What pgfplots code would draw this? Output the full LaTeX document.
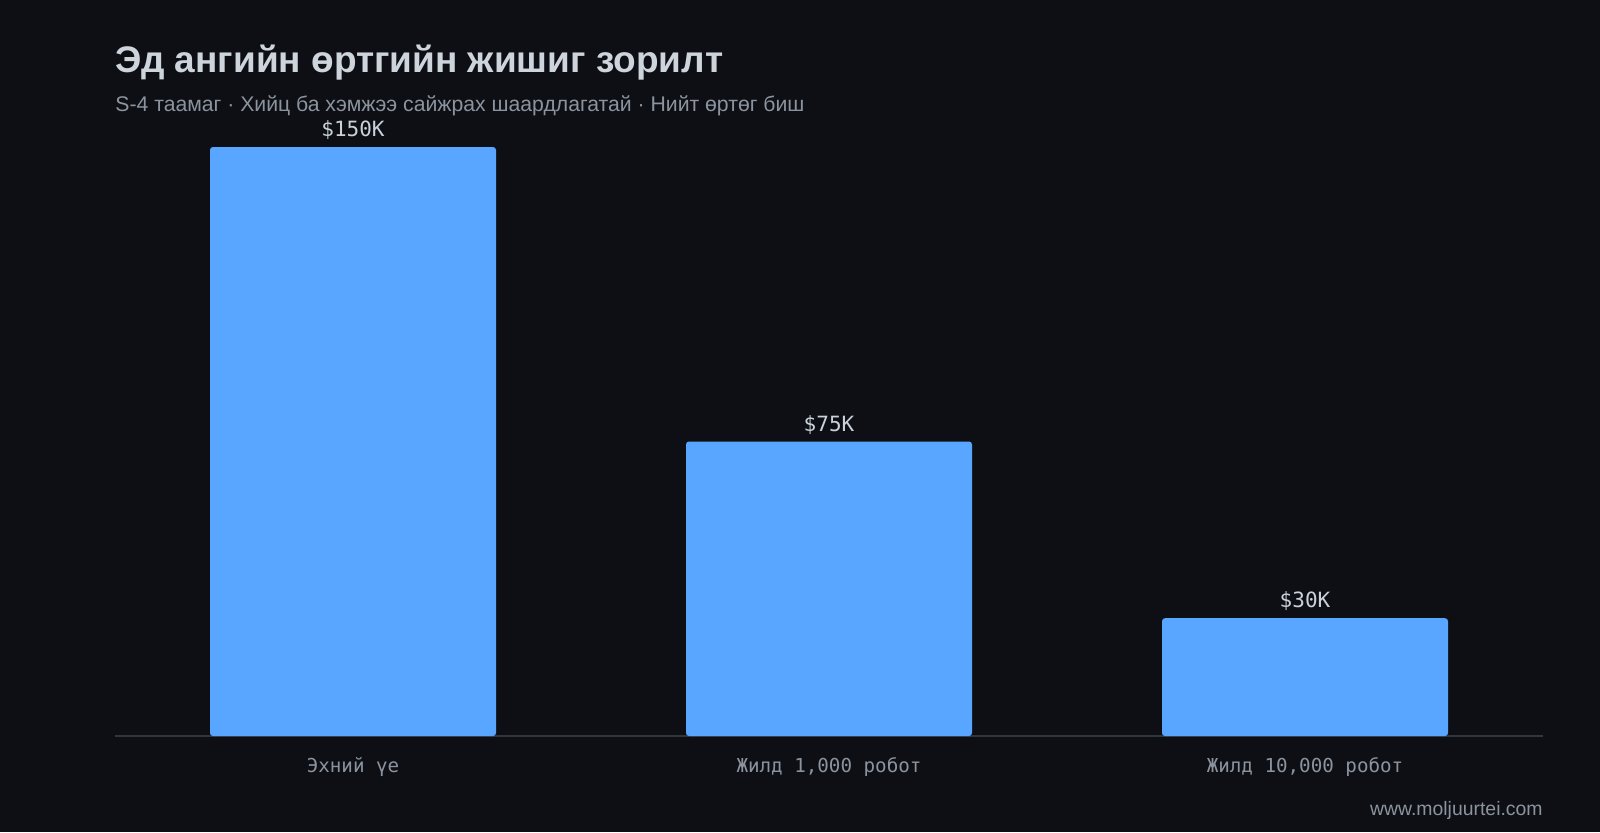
\documentclass[border=0pt]{standalone}
\usepackage{fontspec}
\setmainfont{Liberation Sans}
\newfontfamily\monofont{DejaVu Sans Mono}
\usepackage{pgfplots}
\pgfplotsset{compat=1.18}

\definecolor{bg}{HTML}{0E0F14}
\definecolor{barblue}{HTML}{58A6FF}
\definecolor{titlecol}{HTML}{CDD4DB}
\definecolor{subcol}{HTML}{8B949E}
\definecolor{valcol}{HTML}{C9D1D9}
\definecolor{axiscol}{HTML}{30363D}

\begin{document}
\begin{tikzpicture}
\path[use as bounding box, fill=bg] (0,0) rectangle (800pt,416pt);

\node[anchor=base west, inner sep=0pt, text=titlecol, font=\fontsize{18.5pt}{21pt}\selectfont\bfseries]
  at (57.5pt,379.5pt) {Эд ангийн өртгийн жишиг зорилт};
\node[anchor=base west, inner sep=0pt, text=subcol, font=\fontsize{10.6pt}{12pt}\selectfont]
  at (57.5pt,360pt) {S-4 таамаг · Хийц ба хэмжээ сайжрах шаардлагатай · Нийт өртөг биш};

\begin{axis}[
    at={(57.5pt,48pt)}, anchor=south west,
    scale only axis,
    width=714pt, height=294.5pt,
    xmin=-0.5, xmax=2.5,
    ymin=0, ymax=150,
    clip=false,
    axis x line=bottom,
    axis y line=none,
    x axis line style={-, draw=axiscol, line width=0.6pt},
    major tick length=0pt,
    ytick=\empty,
    xtick=data,
    xticklabels={Эхний үе, Жилд 1{,}000 робот, Жилд 10{,}000 робот},
    xticklabel style={font=\monofont\fontsize{9.6pt}{12pt}\selectfont, text=subcol,
        anchor=base, inner sep=0pt, yshift=-18pt},
    ybar,
    bar width=143pt,
    point meta=explicit symbolic,
    nodes near coords,
    nodes near coords style={font=\monofont\fontsize{10.5pt}{12pt}\selectfont, text=valcol,
        anchor=south, inner sep=0pt, text depth=0pt, yshift=5pt},
]
\addplot[draw=none, fill=barblue, rounded corners=1.5pt] coordinates {
    (0,150) [\$150K]
    (1,75)  [\$75K]
    (2,30)  [\$30K]
};
\end{axis}

\node[anchor=base east, inner sep=0pt, text=subcol, font=\fontsize{9.7pt}{12pt}\selectfont]
  at (771.5pt,8.5pt) {www.moljuurtei.com};
\end{tikzpicture}
\end{document}
